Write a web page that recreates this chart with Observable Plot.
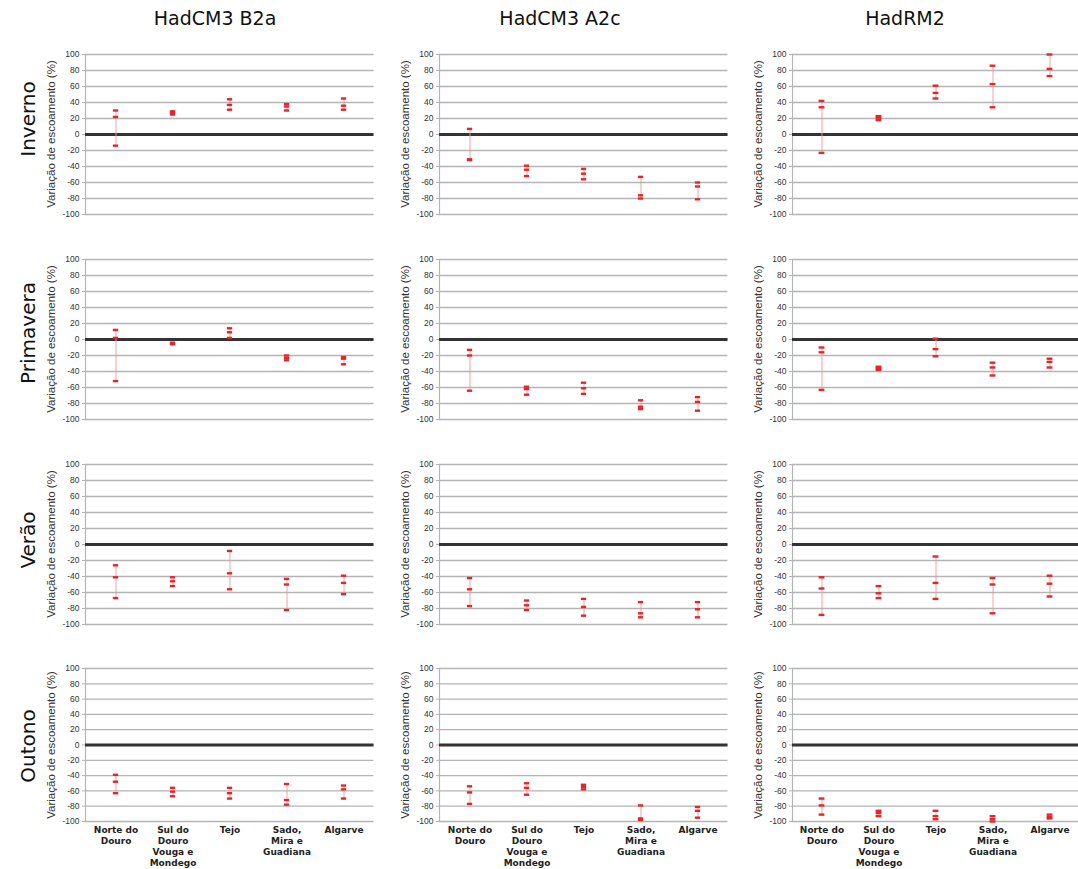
<!DOCTYPE html>
<html><head><meta charset="utf-8">
<script src="https://cdn.jsdelivr.net/npm/d3@7"></script>
<script src="https://cdn.jsdelivr.net/npm/@observablehq/plot@0.6"></script>
<style>
body{margin:0;background:#fff;}
#chart{position:relative;width:1078px;height:869px;overflow:hidden;background:#fff;}
.panel{position:absolute;}
.title{position:absolute;font-family:"DejaVu Sans",sans-serif;font-size:19px;color:#111;transform:translateX(-50%);white-space:nowrap;line-height:22px;}
.row{position:absolute;font-family:"DejaVu Sans",sans-serif;font-size:20px;color:#111;transform:translate(-50%,-50%) rotate(-90deg);white-space:nowrap;line-height:24px;}
.ylab{position:absolute;font-family:"Liberation Sans",sans-serif;font-size:11.5px;color:#333;transform:translate(-50%,-50%) rotate(-90deg);white-space:nowrap;line-height:13px;}
</style></head>
<body><div id="chart"></div>
<script>
const categories = ["Norte do Douro", "Sul do Douro Vouga e Mondego", "Tejo", "Sado, Mira e Guadiana", "Algarve"];
const tickLabels = ["Norte do\nDouro", "Sul do\nDouro\nVouga e\nMondego", "Tejo", "Sado,\nMira e\nGuadiana", "Algarve"];
const models = ["HadCM3 B2a", "HadCM3 A2c", "HadRM2"];
const seasons = ["Inverno", "Primavera", "Verão", "Outono"];
const yTicks = [100, 80, 60, 40, 20, 0, -20, -40, -60, -80, -100];
const yLabel = "Variação de escoamento (%)";

// three values per basin (one row per category)
const invB2a = [[30,22,-14],[29,27,25],[44,37,31],[38,35,30],[45,36,31]];
const invA2c = [[7,-31,-32],[-39,-44,-52],[-43,-49,-56],[-53,-76,-80],[-60,-65,-81]];
const invRM2 = [[42,34,-23],[23,21,18],[61,52,45],[86,63,34],[100,82,73]];
const priB2a = [[12,2,-52],[-4,-5,-6],[14,9,2],[-20,-23,-26],[-22,-24,-31]];
const priA2c = [[-13,-20,-64],[-59,-62,-69],[-54,-61,-68],[-76,-84,-87],[-72,-78,-89]];
const priRM2 = [[-10,-16,-63],[-34,-36,-38],[1,-12,-21],[-29,-35,-45],[-24,-28,-35]];
const verB2a = [[-26,-41,-67],[-41,-46,-52],[-8,-36,-56],[-43,-50,-82],[-39,-48,-62]];
const verA2c = [[-42,-56,-77],[-70,-76,-82],[-68,-78,-89],[-72,-86,-91],[-72,-81,-91]];
const verRM2 = [[-41,-55,-88],[-52,-61,-67],[-15,-48,-68],[-42,-50,-86],[-39,-49,-65]];
const outB2a = [[-39,-48,-63],[-56,-61,-67],[-56,-63,-70],[-51,-72,-78],[-53,-58,-70]];
const outA2c = [[-54,-62,-77],[-50,-56,-65],[-52,-55,-58],[-79,-96,-98],[-81,-86,-95]];
const outRM2 = [[-70,-79,-91],[-86,-89,-93],[-86,-93,-97],[-93,-97,-100],[-91,-94,-96]];

const grid = [
  [invB2a, invA2c, invRM2],
  [priB2a, priA2c, priRM2],
  [verB2a, verA2c, verRM2],
  [outB2a, outA2c, outRM2]
];

// layout (plot frame edges in page pixels)
const X0 = [85, 438.5, 792], X1 = [373.5, 727, 1078];
const Y0 = [54, 259, 464, 668], Y1 = [214, 419, 624, 821];
const titleX = [215, 560, 905];
const rowY = [119, 333, 540, 746];

const chart = document.getElementById("chart");

models.forEach((m, c) => {
  const d = document.createElement("div");
  d.className = "title"; d.textContent = m;
  d.style.left = titleX[c] + "px"; d.style.top = "7px";
  chart.appendChild(d);
});
seasons.forEach((s, r) => {
  const d = document.createElement("div");
  d.className = "row"; d.textContent = s;
  d.style.left = "28px"; d.style.top = rowY[r] + "px";
  chart.appendChild(d);
});

function panel(vals, r, c) {
  const bottom = r === 3;
  const ranges = categories.map((cat, i) => ({cat, lo: d3.min(vals[i]), hi: d3.max(vals[i])}));
  const pts = categories.flatMap((cat, i) => vals[i].map(v => ({cat, v})));
  const mL = 55, mT = 8, mB = bottom ? 48 : 8;
  const w = X1[c] - X0[c], h = Y1[r] - Y0[r];
  const bw = w / categories.length;
  const marks = [
    Plot.ruleY(yTicks, {stroke: "#b4b4b4", strokeWidth: 1.3}),
    Plot.frame({anchor: "left", stroke: "#b4b4b4", strokeWidth: 1.2}),
    Plot.axisY({ticks: yTicks, tickSize: 3, tickPadding: 3, fontSize: 8.5, stroke: "#b4b4b4", color: "#333",
      label: null, fontFamily: "Liberation Sans", tickFormat: d => String(d)}),
    Plot.ruleY([0], {stroke: "#333", strokeWidth: 3}),
    Plot.ruleX(ranges, {x: "cat", y1: "lo", y2: "hi", stroke: "#ee9a9a", strokeWidth: 0.9}),
    Plot.tickY(pts, {x: "cat", y: "v", stroke: "#e3262b", strokeWidth: 2.4, inset: (bw - 6) / 2})
  ];
  if (bottom) {
    marks.push(Plot.text(categories, {x: d => d, frameAnchor: "bottom", dy: 4, lineAnchor: "top",
      text: (d, i) => tickLabels[i], fontWeight: "bold", fontSize: 9, lineHeight: 1.2,
      fill: "#222", fontFamily: "DejaVu Sans"}));
  }
  const p = Plot.plot({
    width: w + mL, height: h + mT + mB,
    marginLeft: mL, marginRight: 0, marginTop: mT, marginBottom: mB,
    style: {background: "transparent", overflow: "visible", fontFamily: "Liberation Sans"},
    x: {type: "band", domain: categories, padding: 0, axis: null},
    y: {domain: [-100, 100], axis: null},
    marks
  });
  p.classList.add("panel");
  p.style.left = (X0[c] - mL) + "px";
  p.style.top = (Y0[r] - mT) + "px";
  chart.appendChild(p);

  const yl = document.createElement("div");
  yl.className = "ylab"; yl.textContent = yLabel;
  yl.style.left = (X0[c] - 34) + "px";
  yl.style.top = ((Y0[r] + Y1[r]) / 2) + "px";
  chart.appendChild(yl);
}

grid.forEach((row, r) => row.forEach((vals, c) => panel(vals, r, c)));
</script></body></html>
